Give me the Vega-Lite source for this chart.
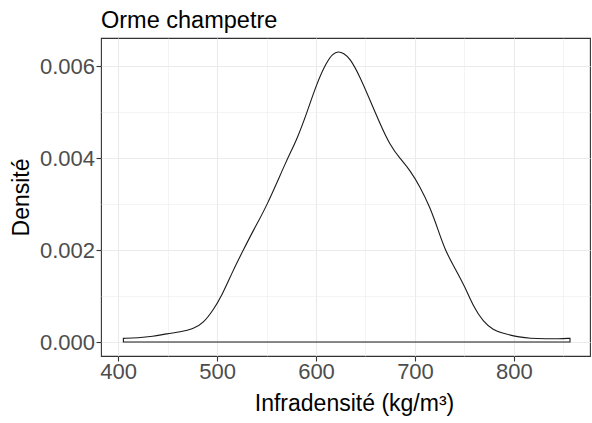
{
  "$schema": "https://vega.github.io/schema/vega-lite/v6.json",
  "width": 489,
  "height": 318,
  "autosize": "none",
  "padding": {"left": 101, "top": 38, "right": 2, "bottom": 67},
  "background": "white",
  "config": {
    "font": "Liberation Sans",
    "view": {"stroke": "#333333", "strokeWidth": 1.1}
  },
  "title": {
    "text": "Orme champetre",
    "anchor": "start",
    "frame": "group",
    "font": "Liberation Sans",
    "fontSize": 23.5,
    "fontWeight": "normal",
    "color": "#000000",
    "baseline": "alphabetic",
    "offset": -13
  },
  "data": {
    "values": [
      {"x": 405.4, "d": 0.00008},
      {"x": 420, "d": 0.00009},
      {"x": 435, "d": 0.00012},
      {"x": 449.5, "d": 0.00018},
      {"x": 462.6, "d": 0.00022},
      {"x": 476, "d": 0.00028},
      {"x": 486.2, "d": 0.00041},
      {"x": 496.3, "d": 0.0007},
      {"x": 504.7, "d": 0.001},
      {"x": 516.5, "d": 0.00157},
      {"x": 526.6, "d": 0.002},
      {"x": 536.7, "d": 0.00243},
      {"x": 550, "d": 0.00294},
      {"x": 570.4, "d": 0.00396},
      {"x": 580.5, "d": 0.00439},
      {"x": 590.6, "d": 0.00497},
      {"x": 600.7, "d": 0.00562},
      {"x": 610.8, "d": 0.00609},
      {"x": 617, "d": 0.00627},
      {"x": 622.5, "d": 0.00632},
      {"x": 628, "d": 0.00628},
      {"x": 634.3, "d": 0.00617},
      {"x": 644.4, "d": 0.00577},
      {"x": 654.5, "d": 0.00526},
      {"x": 664.6, "d": 0.00475},
      {"x": 674.7, "d": 0.00428},
      {"x": 684.8, "d": 0.00399},
      {"x": 694.9, "d": 0.00374},
      {"x": 705, "d": 0.00338},
      {"x": 715, "d": 0.00294},
      {"x": 723.5, "d": 0.00243},
      {"x": 730.3, "d": 0.002},
      {"x": 740.4, "d": 0.0016},
      {"x": 750.5, "d": 0.0012},
      {"x": 758.9, "d": 0.00077},
      {"x": 769, "d": 0.00044},
      {"x": 779, "d": 0.00026},
      {"x": 789, "d": 0.00019},
      {"x": 796, "d": 0.00015},
      {"x": 805, "d": 0.00011},
      {"x": 816, "d": 0.00008},
      {"x": 833, "d": 0.00007},
      {"x": 845, "d": 0.00007},
      {"x": 856.6, "d": 0.00008}
    ]
  },
  "mark": {"type": "area", "fill": null, "fillOpacity": 0, "stroke": "#1a1a1a", "strokeWidth": 1.1, "interpolate": "basis"},
  "encoding": {
    "x": {
      "field": "x",
      "type": "quantitative",
      "scale": {"domain": [382.8, 876.8], "nice": false, "zero": false},
      "axis": {
        "values": [400, 450, 500, 550, 600, 650, 700, 750, 800, 850],
        "labelExpr": "datum.value % 100 === 0 ? datum.label : ''",
        "format": "d",
        "domain": false,
        "grid": true,
        "gridColor": "#EBEBEB",
        "gridWidth": {"condition": {"test": "datum.value % 100 === 0", "value": 1.1}, "value": 0.55},
        "tickSize": 5,
        "tickColor": "#333333",
        "tickWidth": 1.1,
        "tickOpacity": {"condition": {"test": "datum.value % 100 === 0", "value": 1}, "value": 0},
        "labelFont": "Liberation Sans",
        "labelFontSize": 22,
        "labelColor": "#4D4D4D",
        "labelBaseline": "alphabetic",
        "labelPadding": 17.5,
        "title": "Infradensité (kg/m³)",
        "titleFont": "Liberation Sans",
        "titleFontSize": 23,
        "titleFontWeight": "normal",
        "titleColor": "#000000",
        "titleBaseline": "alphabetic",
        "titleX": 253,
        "titleY": 54
      }
    },
    "y": {
      "field": "d",
      "type": "quantitative",
      "scale": {"domain": [-0.000304, 0.006609], "nice": false, "zero": false},
      "axis": {
        "values": [0, 0.001, 0.002, 0.003, 0.004, 0.005, 0.006],
        "labelExpr": "round(datum.value * 1000) % 2 === 0 ? format(datum.value, '.3f') : ''",
        "domain": false,
        "grid": true,
        "gridColor": "#EBEBEB",
        "gridWidth": {"condition": {"test": "round(datum.value * 1000) % 2 === 0", "value": 1.1}, "value": 0.55},
        "tickSize": 5,
        "tickColor": "#333333",
        "tickWidth": 1.1,
        "tickOpacity": {"condition": {"test": "round(datum.value * 1000) % 2 === 0", "value": 1}, "value": 0},
        "labelFont": "Liberation Sans",
        "labelFontSize": 22,
        "labelColor": "#4D4D4D",
        "labelBaseline": "middle",
        "labelPadding": 1.5,
        "title": "Densité",
        "titleFont": "Liberation Sans",
        "titleFontSize": 23,
        "titleFontWeight": "normal",
        "titleColor": "#000000",
        "titleBaseline": "alphabetic",
        "titleX": -73,
        "titleY": 159
      }
    },
    "y2": {"datum": 0}
  }
}
